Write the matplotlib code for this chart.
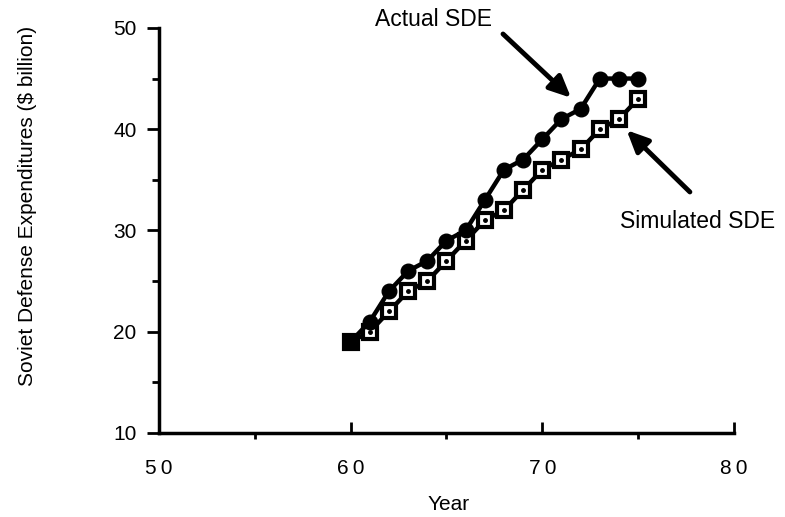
import matplotlib
matplotlib.use('Agg')
from matplotlib import pyplot as plt
import numpy as np

years = [60, 61, 62, 63, 64, 65, 66, 67, 68, 69, 70, 71, 72, 73, 74, 75]
actual_sde = [19, 21, 24, 26, 27, 29, 30, 33, 36, 37, 39, 41, 42, 45, 45, 45]
simulated_sde = [19, 20, 22, 24, 25, 27, 29, 31, 32, 34, 36, 37, 38, 40, 41, 43]
x_ticks = [50, 60, 70, 80]
y_ticks = [10, 20, 30, 40, 50]

plt.rcParams['font.family'] = ['Liberation Sans', 'DejaVu Sans']

fig = plt.figure(figsize=(7.85, 5.17), dpi=100)
ax = fig.add_axes([0.2025, 0.1625, 0.7325, 0.7835])

ax.plot(years, simulated_sde, '-', color='black', lw=3.2, marker='s', ms=10.5,
        mfc='white', mec='black', mew=3, zorder=3)
ax.plot(years, simulated_sde, 'o', color='black', ms=2.5, zorder=4)
ax.plot(years, actual_sde, '-', color='black', lw=3.2, marker='o', ms=10.5,
        mfc='black', mec='black', zorder=5)

ax.set_xlim(50, 80)
ax.set_ylim(10, 50)
ax.set_xticks(x_ticks)
ax.set_xticklabels(['\u2009'.join(str(t)) for t in x_ticks])
ax.set_yticks(y_ticks)
ax.set_xticks([55, 65, 75], minor=True)
ax.set_yticks([15, 25, 35, 45], minor=True)
ax.tick_params(axis='x', which='major', direction='in', length=8, width=2,
               labelsize=15, pad=19)
ax.tick_params(axis='x', which='minor', direction='out', length=4, width=2)
ax.tick_params(axis='y', which='major', direction='out', length=9, width=2,
               labelsize=15, pad=7)
ax.tick_params(axis='y', which='minor', direction='out', length=5, width=2)

for s in ['top', 'right']:
    ax.spines[s].set_visible(False)
for s in ['left', 'bottom']:
    ax.spines[s].set_linewidth(2.5)

ax.set_xlabel('Year', fontsize=15)
ax.xaxis.set_label_coords(0.504, -0.152)
ax.set_ylabel('Soviet Defense Expenditures ($ billion)', fontsize=15)
ax.yaxis.set_label_coords(-0.212, 0.56)

arrow = dict(arrowstyle='-|>,head_length=1.3,head_width=0.6', color='black', lw=3.5,
             shrinkA=0, shrinkB=0)
ax.text(64.3, 50.8, 'Actual SDE', fontsize=16.5, ha='center', va='center')
ax.annotate('', xy=(71.5, 43.1), xytext=(67.95, 49.4),
            arrowprops=arrow, annotation_clip=False)
ax.annotate('', xy=(74.4, 39.9), xytext=(77.7, 33.8),
            arrowprops=arrow, annotation_clip=False)
ax.text(78.1, 30.9, 'Simulated SDE', fontsize=16.5, ha='center', va='center')

fig.savefig('out.png', dpi=100)
